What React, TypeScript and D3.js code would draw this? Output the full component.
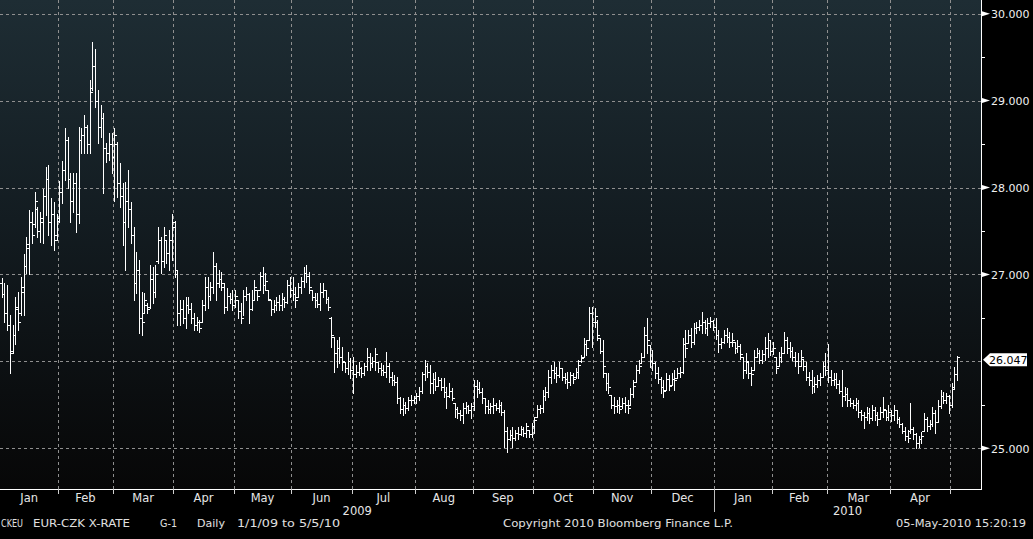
import React from 'react';
import * as d3 from 'd3';

// Month axis (trading-day index of the first bar in each month)
const monthLabels = ["Jan","Feb","Mar","Apr","May","Jun","Jul","Aug","Sep","Oct","Nov","Dec","Jan","Feb","Mar","Apr"];
const monthStarts = [0,21,41,63,85,106,128,151,172,194,216,237,260,281,301,324,346];
const yearLabels = ["2009","2010"];
const yearStarts = [0,260];
const yTickValues = [25,27,28,29,30];
const yMinorValues = [25.5,26.5,27.5,28.5,29.5];
const lastPrice = 26.047;

const highs = [
  26.96,26.90,26.88,26.53,26.42,26.74,26.80,26.97,27.23,27.43,27.74,27.72,27.95,27.78,27.72,27.98,28.24,28.26,27.88,27.83,27.70,
  28.08,28.30,28.69,28.58,28.17,28.17,28.17,28.70,28.69,28.84,28.72,29.24,29.68,29.59,29.12,28.95,28.86,28.51,28.63,28.63,
  28.69,28.52,28.28,28.05,28.06,28.20,27.83,27.55,27.26,27.17,26.80,26.79,26.67,27.11,27.09,27.11,27.55,27.43,27.55,27.40,27.51,27.70,
  27.62,27.05,26.70,26.70,26.74,26.74,26.67,26.56,26.51,26.47,26.70,26.97,26.97,26.91,27.26,27.13,27.05,27.03,26.90,26.84,26.79,26.82,
  26.82,26.70,26.67,26.82,26.86,26.79,26.82,26.94,26.82,27.03,27.09,27.02,26.82,26.70,26.70,26.74,26.76,26.79,26.74,26.94,26.97,
  26.97,26.86,26.90,26.97,27.09,27.11,27.03,26.82,26.79,26.79,26.90,26.90,26.82,26.74,26.51,26.28,26.24,26.28,26.16,25.99,26.11,26.04,
  26.05,25.96,25.99,25.93,25.98,26.15,26.09,26.05,26.15,25.99,25.98,25.96,26.11,25.98,25.88,25.84,25.82,25.59,25.58,25.53,25.59,25.61,25.60,
  25.63,25.70,25.88,26.01,25.98,25.96,25.86,25.88,25.82,25.81,25.81,25.70,25.75,25.69,25.52,25.47,25.44,25.52,25.53,25.50,25.52,
  25.78,25.78,25.76,25.69,25.58,25.55,25.52,25.58,25.52,25.55,25.53,25.44,25.24,25.21,25.24,25.21,25.24,25.26,25.24,25.29,25.21,25.29,
  25.36,25.50,25.50,25.67,25.70,25.90,25.96,25.99,25.93,25.99,25.92,25.86,25.88,25.88,25.86,25.92,26.01,26.07,26.27,26.24,26.63,26.63,
  26.61,26.47,26.27,26.24,25.86,25.86,25.61,25.59,25.55,25.59,25.58,25.59,25.55,25.69,25.78,25.96,26.01,26.09,26.40,26.50,26.19,
  26.13,25.99,25.93,25.82,25.78,25.86,25.84,25.86,25.90,25.92,25.93,26.27,26.36,26.36,26.38,26.44,26.45,26.47,26.57,26.47,26.50,26.51,26.47,
  26.50,26.36,26.27,26.36,26.38,26.34,26.32,26.22,26.24,26.20,26.05,26.09,25.99,25.93,26.13,26.15,26.13,26.13,26.28,26.32,26.24,
  26.22,26.05,26.11,26.17,26.34,26.28,26.22,26.17,26.11,26.09,26.13,26.03,25.99,25.88,25.90,25.82,25.84,25.86,25.99,26.09,
  26.20,25.90,25.86,25.86,25.78,25.90,25.70,25.69,25.58,25.55,25.58,25.55,25.44,25.42,25.47,25.46,25.50,25.47,25.42,25.47,25.59,25.44,25.50,
  25.44,25.50,25.44,25.36,25.29,25.24,25.21,25.52,25.24,25.17,25.14,25.19,25.40,25.36,25.32,25.47,25.44,25.55,25.67,25.65,25.64,25.61,
  25.75,25.93,26.06
];

const lows = [
  26.74,26.45,26.36,25.86,26.09,26.20,26.36,26.53,26.53,27.02,27.00,27.36,27.55,27.43,27.37,27.36,27.68,27.45,27.34,27.28,27.40,
  27.60,27.82,28.09,28.00,27.60,27.72,27.49,27.59,28.40,28.40,28.40,28.40,29.12,28.93,28.51,28.58,27.94,28.29,28.32,28.17,
  27.85,27.89,27.78,27.34,27.05,27.55,27.36,26.70,26.79,26.32,26.30,26.55,26.55,26.61,26.67,26.74,27.13,27.02,27.09,27.13,27.05,27.17,
  26.97,26.42,26.42,26.44,26.38,26.55,26.44,26.36,26.36,26.34,26.45,26.59,26.61,26.70,26.79,26.70,26.86,26.82,26.55,26.59,26.67,26.59,
  26.63,26.50,26.44,26.53,26.70,26.44,26.59,26.70,26.70,26.82,26.79,26.82,26.70,26.53,26.57,26.59,26.59,26.59,26.63,26.67,26.74,
  26.70,26.63,26.74,26.79,26.86,26.91,26.79,26.70,26.63,26.63,26.59,26.74,26.67,26.59,26.16,25.88,25.93,25.98,25.90,25.88,25.85,25.81,
  25.63,25.82,25.84,25.82,25.84,25.90,25.90,25.93,25.90,25.88,25.84,25.84,25.82,25.76,25.73,25.73,25.52,25.40,25.38,25.41,25.44,25.50,25.52,
  25.52,25.55,25.63,25.78,25.82,25.63,25.63,25.67,25.71,25.67,25.59,25.46,25.59,25.55,25.36,25.35,25.32,25.29,25.40,25.40,25.35,
  25.44,25.59,25.63,25.52,25.40,25.40,25.41,25.40,25.44,25.42,25.38,25.01,24.96,25.09,25.01,25.09,25.11,25.15,25.14,25.13,25.13,25.13,
  25.18,25.36,25.40,25.42,25.55,25.59,25.75,25.81,25.76,25.82,25.78,25.75,25.69,25.73,25.75,25.81,25.81,25.99,26.05,26.07,26.24,26.16,
  26.40,26.24,26.09,25.82,25.67,25.63,25.46,25.40,25.42,25.40,25.46,25.42,25.40,25.50,25.59,25.76,25.86,25.98,26.05,26.09,25.93,
  25.90,25.81,25.75,25.63,25.59,25.67,25.67,25.73,25.67,25.81,25.82,25.86,26.05,26.21,26.16,26.20,26.32,26.36,26.32,26.32,26.30,26.40,26.36,
  26.26,26.11,26.15,26.21,26.22,26.16,26.18,26.09,26.11,26.03,25.81,25.86,25.81,25.73,25.90,26.05,25.98,25.98,26.02,26.05,26.07,
  26.08,25.86,25.94,25.99,26.09,26.09,26.05,26.01,25.94,25.86,25.95,25.90,25.78,25.73,25.63,25.65,25.70,25.73,25.82,25.84,
  25.76,25.73,25.73,25.69,25.63,25.48,25.55,25.48,25.48,25.46,25.44,25.36,25.32,25.23,25.32,25.29,25.32,25.32,25.27,25.34,25.36,25.32,25.32,
  25.31,25.32,25.29,25.24,25.17,25.09,25.07,25.17,25.11,25.00,25.01,25.06,25.20,25.20,25.22,25.26,25.17,25.30,25.46,25.52,25.52,25.40,
  25.47,25.68,25.78
];

const opens = [
  26.90,26.78,26.55,26.42,26.12,26.30,26.60,26.55,26.80,27.10,27.30,27.60,27.58,27.75,27.50,27.60,27.90,28.10,27.60,27.70,27.45,
  27.65,27.95,28.20,28.55,28.10,27.85,28.05,27.70,28.55,28.60,28.70,28.50,29.15,29.40,29.00,28.70,28.80,28.45,28.40,28.50,
  28.35,28.50,28.05,27.90,27.60,27.85,27.75,27.45,26.90,27.05,26.50,26.55,26.65,26.62,26.95,26.80,27.15,27.40,27.15,27.40,27.25,27.40,
  27.55,27.00,26.55,26.60,26.50,26.65,26.60,26.50,26.42,26.45,26.45,26.65,26.85,26.75,26.85,27.10,26.90,26.95,26.85,26.62,26.75,26.72,
  26.65,26.70,26.58,26.50,26.75,26.78,26.60,26.70,26.82,26.82,26.98,26.88,26.82,26.70,26.60,26.65,26.68,26.65,26.72,26.68,26.88,
  26.82,26.78,26.74,26.85,26.92,27.02,26.98,26.82,26.74,26.70,26.66,26.80,26.82,26.72,26.50,26.28,26.10,26.15,26.05,25.99,25.92,26.00,
  25.90,25.85,25.88,25.92,25.86,25.94,26.05,25.98,26.00,25.99,25.92,25.90,25.88,25.95,25.82,25.78,25.76,25.58,25.45,25.50,25.46,25.55,25.56,
  25.58,25.60,25.66,25.85,25.95,25.88,25.75,25.80,25.72,25.78,25.70,25.65,25.60,25.66,25.52,25.45,25.40,25.38,25.46,25.48,25.44,
  25.48,25.72,25.68,25.65,25.58,25.48,25.45,25.48,25.50,25.46,25.50,25.42,25.20,25.10,25.15,25.12,25.18,25.16,25.22,25.18,25.21,25.16,
  25.26,25.36,25.45,25.46,25.60,25.65,25.82,25.90,25.86,25.84,25.92,25.82,25.80,25.76,25.84,25.82,25.88,26.00,26.05,26.20,26.24,26.55,
  26.45,26.45,26.27,26.12,25.86,25.75,25.61,25.50,25.48,25.50,25.48,25.52,25.50,25.50,25.62,25.76,25.90,25.98,26.05,26.30,26.19,
  26.00,25.98,25.86,25.80,25.70,25.67,25.80,25.73,25.80,25.81,25.86,25.88,26.20,26.21,26.30,26.22,26.38,26.40,26.42,26.45,26.38,26.44,26.46,
  26.40,26.30,26.20,26.22,26.30,26.28,26.22,26.22,26.15,26.18,26.05,25.90,25.99,25.86,25.90,26.05,26.10,26.02,26.08,26.15,26.24,
  26.12,26.05,25.94,26.05,26.10,26.25,26.15,26.12,26.05,26.00,25.95,26.03,25.95,25.82,25.78,25.72,25.74,25.78,25.82,25.95,
  25.90,25.82,25.78,25.80,25.74,25.66,25.60,25.62,25.55,25.52,25.50,25.52,25.42,25.38,25.36,25.40,25.35,25.44,25.38,25.34,25.42,25.44,25.36,
  25.42,25.38,25.44,25.34,25.28,25.20,25.14,25.20,25.22,25.16,25.06,25.10,25.20,25.34,25.26,25.28,25.40,25.30,25.48,25.60,25.56,25.60,
  25.50,25.70,25.85
];

const closes = [
  26.78,26.55,26.42,26.10,26.30,26.62,26.45,26.85,27.10,27.35,27.60,27.45,27.85,27.50,27.65,27.90,28.10,27.60,27.70,27.40,27.62,
  27.95,28.20,28.55,28.10,27.85,28.05,27.70,28.55,28.60,28.70,28.50,29.10,29.40,29.00,28.70,28.80,28.45,28.40,28.50,28.35,
  28.60,28.05,27.90,27.60,27.85,27.75,27.45,26.90,27.05,26.50,26.45,26.70,26.60,26.95,26.80,27.00,27.40,27.15,27.45,27.25,27.40,27.60,
  27.05,26.55,26.60,26.50,26.65,26.60,26.50,26.42,26.45,26.38,26.65,26.85,26.75,26.85,27.10,26.90,26.95,26.90,26.62,26.75,26.72,26.65,
  26.75,26.58,26.50,26.75,26.78,26.60,26.70,26.85,26.75,26.98,26.88,26.92,26.72,26.60,26.65,26.68,26.65,26.72,26.68,26.88,26.82,
  26.78,26.70,26.85,26.92,27.02,26.98,26.85,26.74,26.70,26.66,26.80,26.82,26.72,26.62,26.30,26.10,26.15,26.05,26.00,25.92,26.00,25.90,
  25.85,25.88,25.92,25.86,25.94,26.05,25.98,26.00,26.08,25.92,25.90,25.88,25.95,25.82,25.78,25.76,25.58,25.45,25.50,25.46,25.55,25.56,25.58,
  25.60,25.66,25.85,25.95,25.88,25.75,25.80,25.72,25.78,25.70,25.65,25.60,25.66,25.58,25.45,25.40,25.38,25.46,25.48,25.44,25.48,
  25.72,25.68,25.65,25.58,25.48,25.45,25.48,25.50,25.46,25.50,25.42,25.20,25.10,25.15,25.12,25.18,25.16,25.22,25.18,25.25,25.16,25.26,
  25.32,25.45,25.46,25.60,25.65,25.82,25.90,25.86,25.84,25.92,25.82,25.80,25.76,25.84,25.80,25.88,25.96,26.04,26.20,26.15,26.55,26.45,
  26.52,26.30,26.12,25.95,25.75,25.70,25.50,25.48,25.50,25.45,25.52,25.50,25.46,25.62,25.72,25.90,25.95,26.05,26.30,26.25,26.00,
  25.98,25.86,25.80,25.70,25.66,25.80,25.72,25.80,25.78,25.86,25.88,26.20,26.15,26.30,26.22,26.38,26.40,26.42,26.45,26.38,26.44,26.46,26.40,
  26.30,26.20,26.22,26.30,26.28,26.22,26.25,26.15,26.18,26.08,25.90,26.00,25.86,25.85,26.05,26.10,26.02,26.08,26.15,26.25,26.12,
  26.15,25.92,26.05,26.10,26.25,26.15,26.12,26.05,26.00,25.95,26.05,25.95,25.82,25.78,25.72,25.74,25.78,25.82,25.95,25.90,
  25.82,25.78,25.80,25.74,25.66,25.60,25.62,25.55,25.52,25.50,25.52,25.42,25.38,25.36,25.40,25.35,25.44,25.38,25.34,25.42,25.45,25.36,25.42,
  25.38,25.44,25.34,25.28,25.20,25.14,25.12,25.22,25.16,25.06,25.10,25.14,25.34,25.26,25.28,25.40,25.30,25.48,25.60,25.56,25.60,25.50,
  25.68,25.85,26.047
];

const footerLeft = [
  { text: "CKEU", x: 1, w: 22 },
  { text: "EUR-CZK X-RATE", x: 33, w: 97 },
  { text: "G-1", x: 160, w: 17 },
  { text: "Daily", x: 197, w: 28 },
  { text: "1/1/09 to 5/5/10", x: 237, w: 103 },
];
const copyrightText = "Copyright 2010 Bloomberg Finance L.P.";
const stampText = "05-May-2010 15:20:19";

export default function App() {
  const W = 1033, H = 539;
  const plotR = 981, plotB = 489;
  const font = "'DejaVu Sans', Verdana, sans-serif";

  const x = d3.scaleLinear().domain([0, 357.2]).range([0.35, plotR]);
  const y = d3.scaleLinear().domain([24.53, 30.158]).range([plotB, 0]);

  let barPath = "";
  for (let i = 0; i < highs.length; i++) {
    const r = Math.round(x(i + 0.5));
    const yh = Math.round(y(highs[i]));
    const yl = Math.round(y(lows[i]));
    const yo = Math.round(y(opens[i]));
    const yc = Math.round(y(closes[i]));
    barPath += `M${r + 0.5},${yh}V${yl + 1}`;
    barPath += `M${r - 2},${yo + 0.5}H${r}`;
    barPath += `M${r + 1},${yc + 0.5}H${r + 3}`;
  }

  const gridX = monthStarts.slice(1).map((m) => Math.round(x(m)) + 0.5);
  const yr = (v: number) => Math.round(y(v)) + 0.5;
  const lp = y(lastPrice) + 2.5;

  return (
    <svg
      width={W}
      height={H}
      viewBox={`0 0 ${W} ${H}`}
      style={{ position: "absolute", left: 0, top: 0, display: "block", background: "#000" }}
    >
      <defs>
        <linearGradient id="bg" x1="0" y1="0" x2="0" y2="1">
          <stop offset="0" stopColor="#1e2d34" />
          <stop offset="0.45" stopColor="#131c21" />
          <stop offset="0.8" stopColor="#0b0e10" />
          <stop offset="1" stopColor="#070707" />
        </linearGradient>
      </defs>
      <rect x={0} y={0} width={W} height={H} fill="#000" />
      <rect x={0} y={0} width={plotR} height={plotB} fill="url(#bg)" />

      {/* gridlines */}
      <g stroke="#8f8f8f" strokeWidth={1} strokeDasharray="3,3" shapeRendering="crispEdges">
        {yTickValues.concat([26]).map((v) => (
          <line key={"gy" + v} x1={0} x2={plotR} y1={yr(v)} y2={yr(v)} />
        ))}
        {gridX.map((gx, i) => (
          <line key={"gx" + i} x1={gx} x2={gx} y1={0} y2={plotB} />
        ))}
      </g>

      {/* OHLC bars */}
      <path d={barPath} stroke="#ffffff" strokeWidth={1} fill="none" shapeRendering="crispEdges" />

      {/* axes */}
      <g stroke="#ffffff" strokeWidth={1} shapeRendering="crispEdges">
        <line x1={0} x2={plotR + 0.5} y1={plotB + 0.5} y2={plotB + 0.5} />
        <line x1={plotR + 0.5} x2={plotR + 0.5} y1={0} y2={plotB + 0.5} />
        {yMinorValues.map((v) => (
          <line key={"mt" + v} x1={plotR} x2={plotR + 4} y1={yr(v)} y2={yr(v)} />
        ))}
        {gridX.map((gx, i) => (
          <line key={"xt" + i} x1={gx} x2={gx} y1={plotB} y2={plotB + 5} stroke="#cfcfcf" />
        ))}
        <line
          x1={Math.round(x(yearStarts[1])) + 0.5}
          x2={Math.round(x(yearStarts[1])) + 0.5}
          y1={plotB}
          y2={plotB + 23}
          stroke="#bdbdbd"
        />
      </g>

      {/* y tick markers + labels */}
      {yTickValues.map((v) => {
        const yy = y(v);
        return (
          <g key={"yl" + v}>
            <polygon points={`${plotR + 1},${yy - 2.5} ${plotR + 9},${yy} ${plotR + 1},${yy + 2.5}`} fill="#ffffff" />
            <text x={991} y={yy + 4.5} fill="#f0f0f0" fontFamily={font} fontSize={11}>
              {d3.format(".3f")(v)}
            </text>
          </g>
        );
      })}

      {/* last price label */}
      <polygon
        points={`${plotR + 2},${lp} ${plotR + 9},${lp - 6.5} ${1027},${lp - 6.5} ${1027},${lp + 6.5} ${plotR + 9},${lp + 6.5}`}
        fill="#ffffff"
      />
      <text x={989} y={lp + 4} fill="#000" fontFamily={font} fontSize={11}>
        {d3.format(".3f")(lastPrice)}
      </text>

      {/* month labels */}
      {monthLabels.map((m, i) => {
        const cx = (x(monthStarts[i]) + x(monthStarts[i + 1])) / 2;
        return (
          <text key={"ml" + i} x={cx} y={502} textAnchor="middle" fill="#e6e6e6" fontFamily={font} fontSize={11.5}>
            {m}
          </text>
        );
      })}
      {yearLabels.map((yl, i) => {
        const a = x(yearStarts[i]);
        const b = i + 1 < yearStarts.length ? x(yearStarts[i + 1]) : plotR;
        return (
          <text key={"yr" + i} x={(a + b) / 2} y={515} textAnchor="middle" fill="#e6e6e6" fontFamily={font} fontSize={11.5}>
            {yl}
          </text>
        );
      })}

      {/* footer */}
      {footerLeft.map((f, i) => (
        <text key={"fl" + i} x={f.x} y={527} fill="#e0e0e0" fontFamily={font} fontSize={11} textLength={f.w} lengthAdjust="spacingAndGlyphs">
          {f.text}
        </text>
      ))}
      <text x={503} y={527} fill="#e0e0e0" fontFamily={font} fontSize={11} textLength={230} lengthAdjust="spacingAndGlyphs">
        {copyrightText}
      </text>
      <text x={896} y={527} fill="#e0e0e0" fontFamily={font} fontSize={11} textLength={130} lengthAdjust="spacingAndGlyphs">
        {stampText}
      </text>
    </svg>
  );
}
